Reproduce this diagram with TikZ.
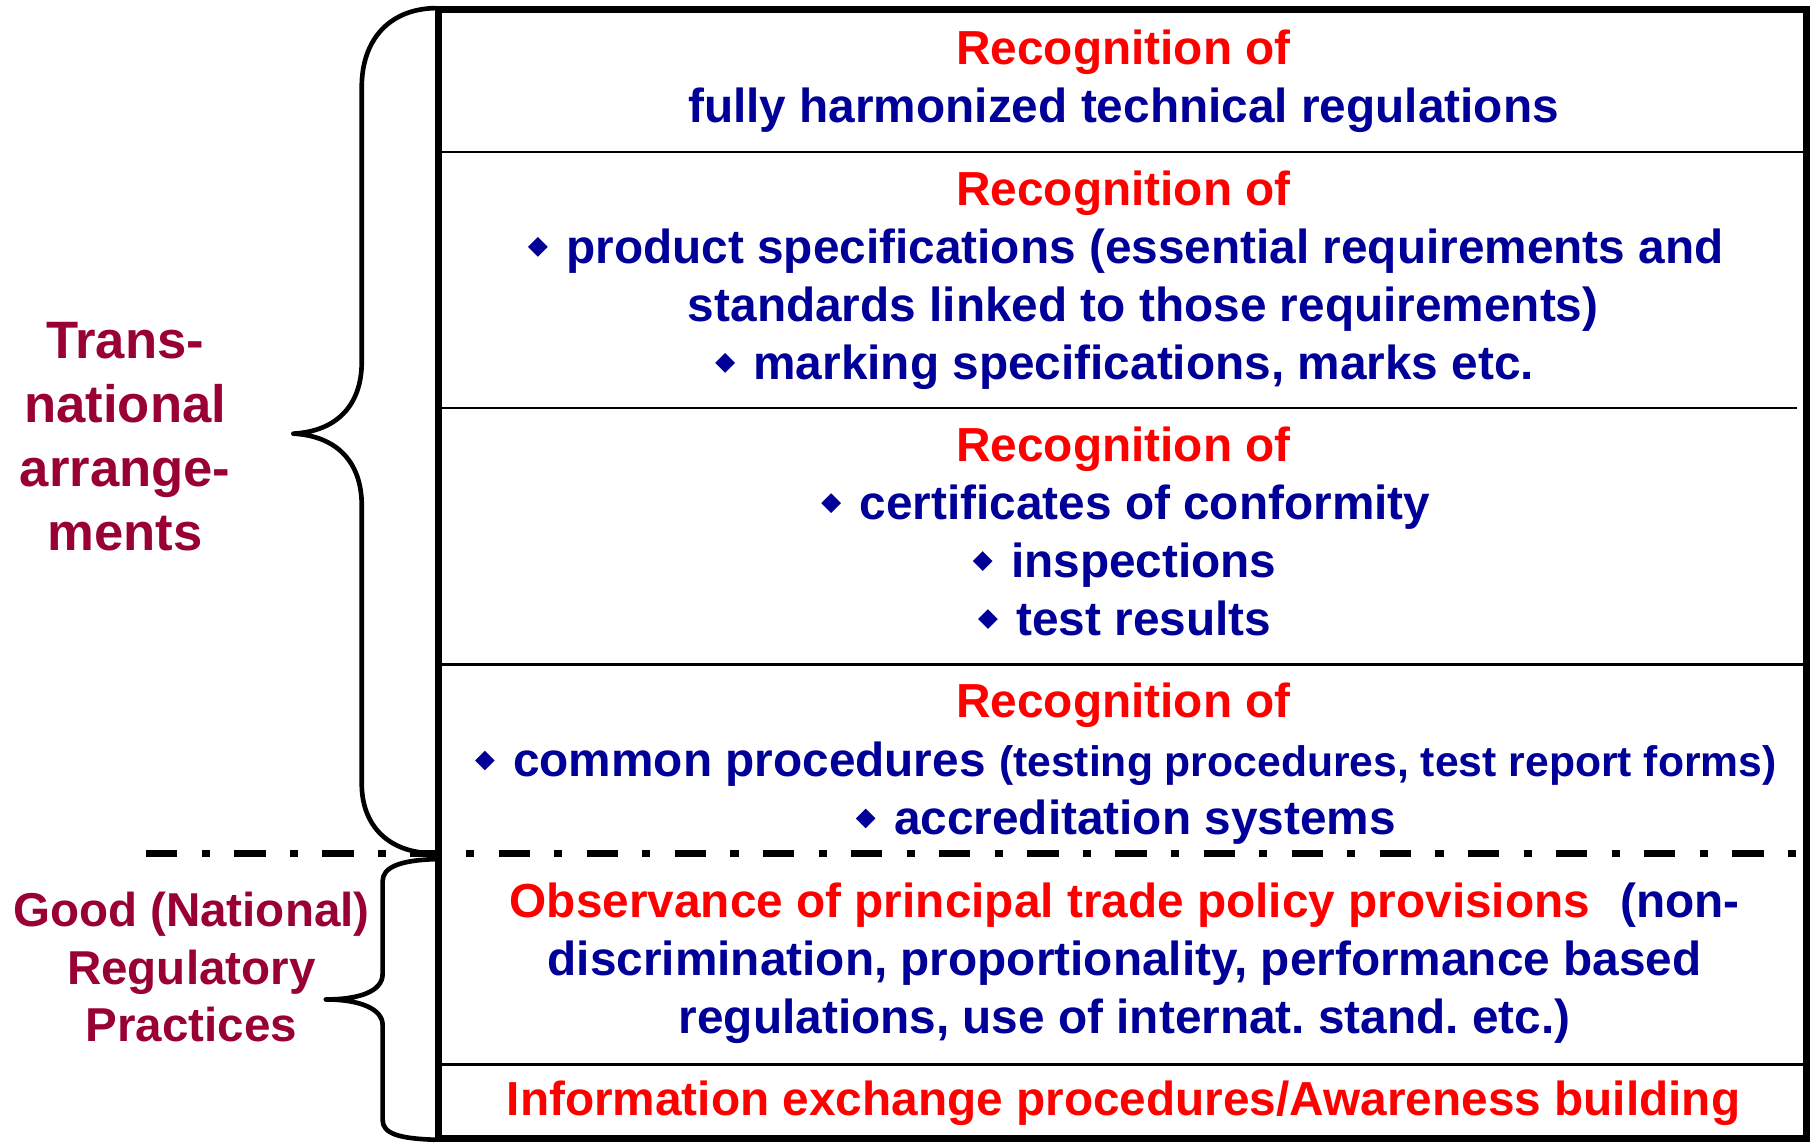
\documentclass[tikz,border=0pt]{standalone}
\usepackage{fontspec}
\setmainfont{Liberation Sans}
\usepackage{graphicx}
\definecolor{tred}{HTML}{FF0000}
\definecolor{tblue}{HTML}{000099}
\definecolor{tlab}{HTML}{990033}
\newcommand{\bul}{\raisebox{2.8pt}{\rotatebox{45}{\rule{6pt}{6pt}}}\hspace{8pt}}
\frenchspacing
\begin{document}
\begin{tikzpicture}[x=0.5pt,y=-0.5pt,
  txt/.style={anchor=base, inner sep=0pt, font=\bfseries\fontsize{20.6}{25}\selectfont},
  rd/.style={txt, text=tred},
  bl/.style={txt, text=tblue},
  labbig/.style={anchor=base, inner sep=0pt, text=tlab, font=\bfseries\fontsize{22.7}{27.5}\selectfont},
  labsm/.style={anchor=base, inner sep=0pt, text=tlab, font=\bfseries\fontsize{20.5}{25}\selectfont},
  thinrule/.style={line width=1pt},
  frame/.style={line width=3.2pt},
  bracepath/.style={line width=2pt, line cap=round, line join=round},
  sepline/.style={line width=3.2pt, dash pattern=on 13.5pt off 10.5pt on 3.5pt off 10.5pt}]
\useasboundingbox (0,0) rectangle (1568,986);
% frame and dividers
\draw[frame] (378,8) rectangle (1558,982);
\draw[thinrule] (378,131) -- (1558,131);
\draw[thinrule] (378,352) -- (1550,352);
\draw[thinrule] (378,573) -- (1558,573);
\draw[thinrule] (378,918) -- (1558,918);
% box 1
\node[rd] (r1) at (969,56) {Recognition of};
\node[bl] (b1a) at (969,106) {fully harmonized technical regulations};
% box 2
\node[rd] (r2) at (969,177) {Recognition of};
\node[bl] (b2a) at (971,227) {\bul product specifications (essential requirements and};
\node[bl] (b2b) at (986,277) {standards linked to those requirements)};
\node[bl] (b2c) at (970,327) {\bul marking specifications, marks etc.};
% box 3
\node[rd] (r3) at (969,398) {Recognition of};
\node[bl] (b3a) at (971,448) {\bul certificates of conformity};
\node[bl] (b3b) at (970,498) {\bul inspections};
\node[bl] (b3c) at (970,548) {\bul test results};
% box 4
\node[rd] (r4) at (969,619) {Recognition of};
\node[bl] (b4a) at (971,670) {\bul common procedures {\fontsize{18.4}{25}\selectfont (testing procedures, test report forms)}};
\node[bl] (b4b) at (971,720) {\bul accreditation systems};
% box 5
\node[bl] (b5a) at (970,791) {\textcolor{tred}{Observance of principal trade policy provisions}\hspace{13pt}(non-};
\node[bl] (b5b) at (970,841) {discrimination, proportionality, performance based};
\node[bl] (b5c) at (970,891) {regulations, use of internat. stand. etc.)};
% box 6
\node[rd] (r6) at (969,962) {Information exchange procedures/Awareness building};
% left labels
\node[labbig] (t1) at (108,309) {Trans-};
\node[labbig] (t2) at (108,364) {national};
\node[labbig] (t3) at (108,420) {arrange-};
\node[labbig] (t4) at (108,475) {ments};
\node[labsm] (g1) at (165,799) {Good (National)};
\node[labsm] (g2) at (165,849) {Regulatory};
\node[labsm] (g3) at (165,898) {Practices};
% braces
\draw[bracepath] (375,7) .. controls (335,8) and (312,35) .. (312,75) -- (312,312)
  .. controls (312,350) and (290,372) .. (253,374)
  .. controls (290,376) and (312,398) .. (312,436) -- (312,676)
  .. controls (312,712) and (335,736) .. (375,736);
\draw[bracepath] (375,741) .. controls (345,742) and (330,748) .. (330,760) -- (330,840)
  .. controls (330,855) and (310,862) .. (281,862)
  .. controls (310,862) and (330,870) .. (330,884) -- (330,966)
  .. controls (330,978) and (345,982) .. (375,983);
% dash-dot separator
\draw[sepline] (126,736) -- (1549,736);
\end{tikzpicture}
\end{document}
